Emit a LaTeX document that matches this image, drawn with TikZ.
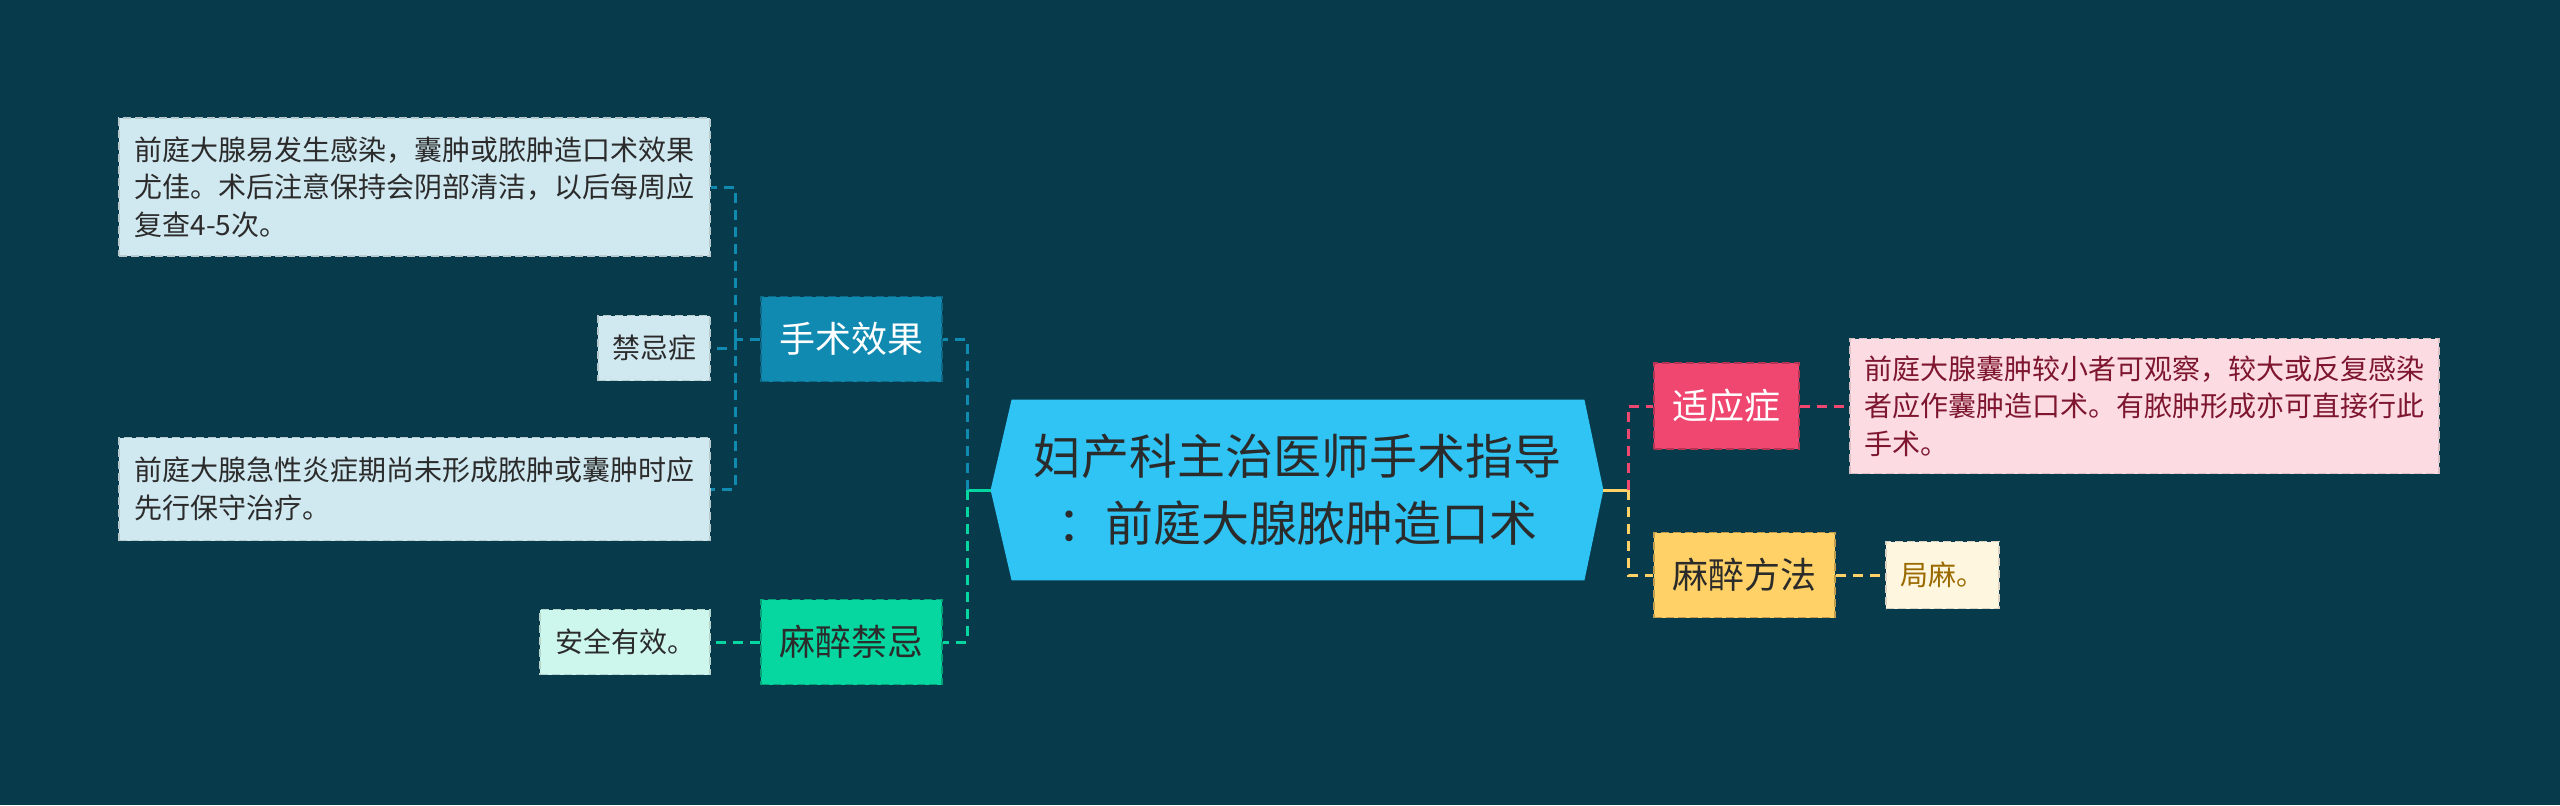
\documentclass[tikz,border=0pt]{standalone}
\usepackage{fontspec}
\setmainfont{Noto Sans CJK SC}
\usepackage{xcolor}
\usepackage{tikz}
\usetikzlibrary{backgrounds}
\definecolor{bgdark}{HTML}{073B4C}
\definecolor{rootblue}{HTML}{2FC4F4}
\definecolor{topicblue}{HTML}{118AB2}
\definecolor{topicgreen}{HTML}{06D6A0}
\definecolor{topicpink}{HTML}{EF476F}
\definecolor{topicyellow}{HTML}{FFD166}
\definecolor{noteblue}{HTML}{D0E8F0}
\definecolor{notegreen}{HTML}{CDF7EC}
\definecolor{notepink}{HTML}{FCDCE2}
\definecolor{noteyellow}{HTML}{FFF6DF}
\definecolor{inkdark}{HTML}{2B2B2B}
\definecolor{inkred}{HTML}{7E1630}
\definecolor{inkgold}{HTML}{9A6A00}

\tikzset{
  rootbox/.style={inner sep=0pt, minimum width=306pt, minimum height=90pt, align=center,
    text=inkdark, font=\fontsize{24pt}{33.5pt}\selectfont},
  topic/.style={draw=#1!75!black, fill=#1, dash pattern=on 4pt off 2pt, line width=0.8pt,
    inner sep=0pt, font=\fontsize{18pt}{22pt}\selectfont},
  note/.style={draw=#1!70!gray, fill=#1, dash pattern=on 4pt off 2pt, line width=0.8pt,
    inner sep=0pt, align=left, font=\fontsize{14pt}{18.75pt}\selectfont},
  link/.style={line width=1.5pt, dash pattern=on 5pt off 3.5pt},
  stub/.style={line width=1.5pt},
}

\begin{document}
\begin{tikzpicture}[x=0.5pt, y=-0.5pt]
  \useasboundingbox (0,0) rectangle (2560,805);

  % Central topic
  \node[rootbox] (root) at (1297,490) {妇产科主治医师手术指导\\：前庭大腺脓肿造口术};
  \begin{scope}[on background layer]
    \fill[bgdark] (0,0) rectangle (2560,805);
    \fill[rootblue] (root.west) -- ([xshift=10.5pt]root.north west) -- ([xshift=-9.5pt]root.north east)
      -- (root.east) -- ([xshift=-9.5pt]root.south east) -- ([xshift=10.5pt]root.south west) -- cycle;
  \end{scope}

  % Left branches
  \node[topic=topicblue, text=white, minimum width=90.5pt, minimum height=42.5pt] (effect) at (851.5,339) {手术效果};
  \node[topic=topicgreen, text=inkdark, minimum width=90.5pt, minimum height=42.5pt] (anes) at (851.5,642) {麻醉禁忌};

  \node[note=noteblue, text=inkdark, minimum width=295.5pt, minimum height=69pt] (effectA) at (414.5,187)
    {前庭大腺易发生感染，囊肿或脓肿造口术效果\\尤佳。术后注意保持会阴部清洁，以后每周应\\复查4-5次。};
  \node[note=noteblue, text=inkdark, minimum width=56pt, minimum height=32.5pt] (effectB) at (654,348) {禁忌症};
  \node[note=noteblue, text=inkdark, minimum width=295.5pt, minimum height=51.5pt] (effectC) at (414.5,489)
    {前庭大腺急性炎症期尚未形成脓肿或囊肿时应\\先行保守治疗。};
  \node[note=notegreen, text=inkdark, minimum width=85pt, minimum height=32.5pt] (anesA) at (625,642) {安全有效。};

  % Right branches
  \node[topic=topicpink, text=white, minimum width=72.5pt, minimum height=43pt] (indic) at (1726.5,406) {适应症};
  \node[topic=topicyellow, text=inkdark, minimum width=90.5pt, minimum height=42.5pt] (method) at (1744.5,575) {麻醉方法};

  \node[note=notepink, text=inkred, minimum width=294.5pt, minimum height=67.5pt] (indicA) at (2144.5,406)
    {前庭大腺囊肿较小者可观察，较大或反复感染\\者应作囊肿造口术。有脓肿形成亦可直接行此\\手术。};
  \node[note=noteyellow, text=inkgold, minimum width=56.5pt, minimum height=33.5pt] (methodA) at (1942.5,575) {局麻。};

  % Connectors, left side
  \coordinate (jl) at (967,490);
  \coordinate (je) at (735,339);
  \draw[stub, topicgreen] (root.west) -- (jl);
  \draw[link, topicblue] (jl) |- (effect.east);
  \draw[link, topicgreen] (jl) |- (anes.east);
  \draw[link, topicblue] (effect.west) -- (je);
  \draw[link, topicblue] (je) |- (effectA.east);
  \draw[link, topicblue] (je) |- (effectB.east);
  \draw[link, topicblue] (je) |- (effectC.east);
  \draw[link, topicgreen] (anes.west) -- (anesA.east);

  % Connectors, right side
  \coordinate (jr) at (1628,490);
  \draw[stub, topicyellow] (root.east) -- (jr);
  \draw[link, topicpink] (jr) |- (indic.west);
  \draw[link, topicyellow] (jr) |- (method.west);
  \draw[link, topicpink] (indic.east) -- (indicA.west);
  \draw[link, topicyellow] (method.east) -- (methodA.west);
\end{tikzpicture}
\end{document}
